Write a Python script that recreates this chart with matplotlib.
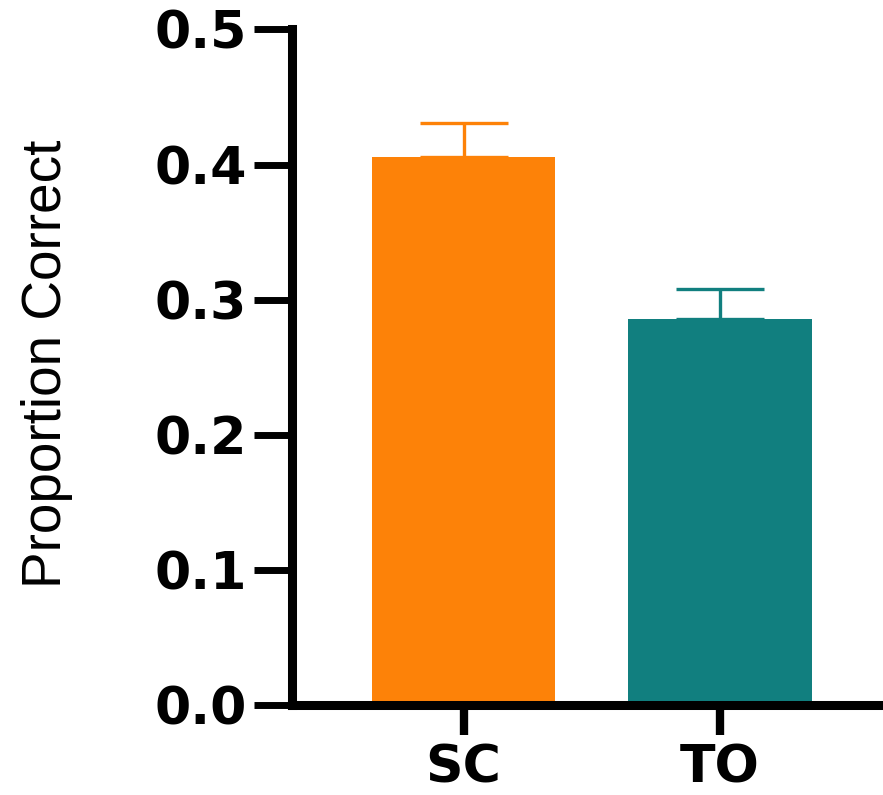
import matplotlib.pyplot as plt

# Данные
groups = ['SC', 'TO']
means = [0.406, 0.286]
errors = [0.025, 0.022]
colors = ['#FD8208', '#117F7F']
y_ticks = [0.0, 0.1, 0.2, 0.3, 0.4, 0.5]

fig = plt.figure(figsize=(8.83, 7.95), dpi=100)
ax = fig.add_axes([0.3307, 0.1126, 0.6693, 0.8503])

x = list(range(len(groups)))
for i in x:
    ax.errorbar(x[i], means[i], yerr=[[0], [errors[i]]], color=colors[i],
                elinewidth=2.4, capsize=32, capthick=2.4, zorder=1)
ax.bar(x, means, width=0.717, color=colors, zorder=2)

ax.set_xlim(-0.6686, 1.6355)
ax.set_ylim(0, 0.5)
ax.set_xticks(x)
ax.set_xticklabels(groups)
ax.set_yticks(y_ticks)
ax.set_yticklabels([f'{v:.1f}' for v in y_ticks])

# Оси
for side in ['top', 'right']:
    ax.spines[side].set_visible(False)
for side in ['left', 'bottom']:
    ax.spines[side].set_linewidth(6.5)
    ax.spines[side].set_capstyle('projecting')

ax.tick_params(axis='y', length=27.5, width=5, pad=5)
ax.tick_params(axis='x', length=21.5, width=6, pad=6)
for lab in ax.get_yticklabels():
    lab.set_fontfamily('DejaVu Sans')
    lab.set_fontweight('bold')
    lab.set_fontsize(37.5)
for lab in ax.get_xticklabels():
    lab.set_fontfamily('DejaVu Sans')
    lab.set_fontweight('bold')
    lab.set_fontsize(37.5)

ax.set_ylabel('Proportion Correct', family='Liberation Sans', fontsize=39.5)
ax.yaxis.set_label_coords(-0.415, 0.506)
ax.yaxis.label.set_va('center')

plt.savefig('out.png', dpi=100)
